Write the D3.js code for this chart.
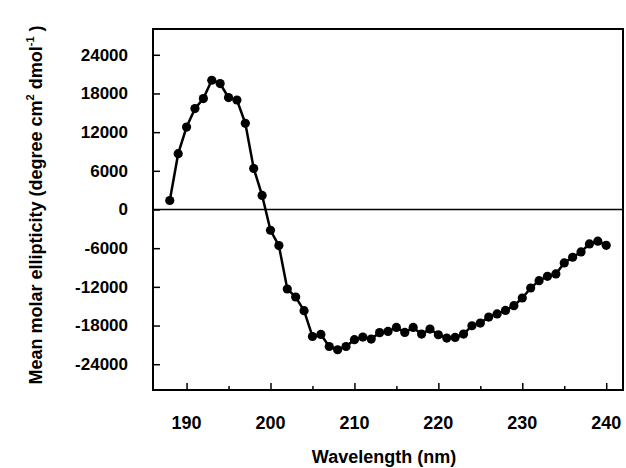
<!DOCTYPE html>
<html>
<head>
<meta charset="utf-8">
<script src="https://cdn.jsdelivr.net/npm/d3@7"></script>
<style>
  body { margin: 0; background: #fff; }
  svg text { font-family: "Liberation Sans", Arial, sans-serif; fill: #000; font-weight: bold; }
</style>
</head>
<body>
<div id="chart"></div>
<script>
// CD spectrum, one reading per nm
var wavelengths = d3.range(188, 241);
var ellipticity = [
  1400, 8660, 12790, 15650, 17200, 20050, 19540, 17360, 16990, 13370,
  6370, 2180, -3220, -5600, -12330, -13570, -15700, -19700, -19380, -21250,
  -21760, -21250, -20200, -19790, -20100, -19100, -18910, -18290, -19070, -18290,
  -19330, -18550, -19430, -19950, -19840, -19330, -18030, -17620, -16680, -16200,
  -15650, -14920, -13730, -12180, -11040, -10370, -10000, -8290, -7410, -6580,
  -5340, -4920, -5550
];
var xTicks = [190, 200, 210, 220, 230, 240];
var xMinorTicks = [195, 205, 215, 225, 235];
var yTicks = [24000, 18000, 12000, 6000, 0, -6000, -12000, -18000, -24000];

var width = 626,
    height = 468;

var margin = { top: 29, right: 3, bottom: 78, left: 153 };
var innerWidth = width - margin.left - margin.right,
    innerHeight = height - margin.top - margin.bottom;

var data = wavelengths.map(function (w, i) { return { x: w, y: ellipticity[i] }; });

var svg = d3.select('#chart').append('svg')
    .attr('width', width)
    .attr('height', height);

var g = svg.append('g')
    .attr('transform', 'translate(' + margin.left + ',' + margin.top + ')');

var scaleX = d3.scaleLinear().domain([186, 242]).range([0, innerWidth]);
var scaleY = d3.scaleLinear().domain([-28000, 28000]).range([innerHeight, 0]);

// frame
g.append('rect')
    .attr('width', innerWidth)
    .attr('height', innerHeight)
    .attr('fill', 'none')
    .attr('stroke', '#000')
    .attr('stroke-width', 2);

// zero line
g.append('line')
    .attr('x1', 0).attr('x2', innerWidth)
    .attr('y1', scaleY(0)).attr('y2', scaleY(0))
    .attr('stroke', '#000')
    .attr('stroke-width', 1.6);

function stripAxis(s) {
    s.select('.domain').remove();
    s.selectAll('text').remove();
    s.selectAll('line').attr('stroke-width', 1.5);
}

// y axis, ticks inside
var yAxis = d3.axisRight(scaleY)
    .tickValues(yTicks)
    .tickSize(7);
g.append('g').call(yAxis).call(stripAxis);

// tick labels placed in page coordinates
svg.append('g').selectAll('text')
    .data(yTicks)
    .enter().append('text')
    .attr('x', margin.left - 25)
    .attr('y', function (d) { return margin.top + scaleY(d); })
    .attr('dy', '0.35em')
    .attr('text-anchor', 'end')
    .style('font-size', '17px')
    .text(function (d) { return d; });

// x axis, ticks inside
var xAxis = d3.axisTop(scaleX)
    .tickValues(xTicks)
    .tickSize(7);
g.append('g').attr('transform', 'translate(0,' + innerHeight + ')').call(xAxis).call(stripAxis);

var xAxisMinor = d3.axisTop(scaleX)
    .tickValues(xMinorTicks)
    .tickSize(4);
g.append('g').attr('transform', 'translate(0,' + innerHeight + ')').call(xAxisMinor).call(stripAxis);

svg.append('g').selectAll('text')
    .data(xTicks)
    .enter().append('text')
    .attr('x', function (d) { return margin.left + scaleX(d); })
    .attr('y', margin.top + innerHeight + 33)
    .attr('dy', '0.35em')
    .attr('text-anchor', 'middle')
    .style('font-size', '18px')
    .text(function (d) { return d; });

// axis titles
svg.append('text')
    .attr('x', 384)
    .attr('y', 463)
    .attr('text-anchor', 'middle')
    .style('font-size', '18px')
    .text('Wavelength (nm)');

var yTitle = svg.append('text')
    .attr('transform', 'translate(42,' + 205 + ') rotate(-90)')
    .attr('text-anchor', 'middle')
    .style('font-size', '18px');
yTitle.append('tspan').text('Mean molar ellipticity (degree cm');
yTitle.append('tspan').attr('dy', -8).style('font-size', '11px').text('2');
yTitle.append('tspan').attr('dy', 8).text(' dmol');
yTitle.append('tspan').attr('dy', -8).style('font-size', '11px').text('-1');
yTitle.append('tspan').attr('dy', 8).text(' )');

// spectrum line and markers
var line = d3.line()
    .x(function (d) { return scaleX(d.x); })
    .y(function (d) { return scaleY(d.y); });

g.append('path')
    .datum(data)
    .attr('d', line)
    .attr('fill', 'none')
    .attr('stroke', '#000')
    .attr('stroke-width', 2.5);

g.selectAll('.dot')
    .data(data)
    .enter().append('circle')
    .attr('class', 'dot')
    .attr('cx', function (d) { return scaleX(d.x); })
    .attr('cy', function (d) { return scaleY(d.y); })
    .attr('r', 4.6)
    .attr('fill', '#000');
</script>
</body>
</html>
